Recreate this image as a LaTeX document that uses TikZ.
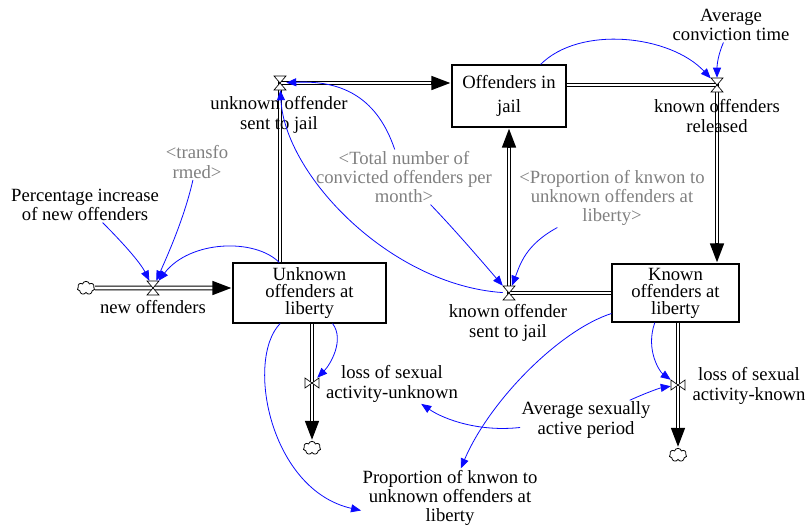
\documentclass[tikz,border=0pt]{standalone}
\usepackage{fontspec}
\setmainfont{Liberation Serif}
\usetikzlibrary{arrows.meta,shapes.symbols}

\definecolor{linkblue}{RGB}{10,10,255}
\definecolor{shadowgray}{RGB}{128,128,128}

\tikzset{
  stock/.style={draw, line width=0.8pt, align=center, inner sep=2pt, font=\fontsize{14}{12.75}\selectfont},
  lbl/.style={align=center, inner sep=1pt, font=\fontsize{14}{14.5}\selectfont},
  shadow/.style={lbl, text=shadowgray},
  valve/.style={inner sep=0pt, minimum width=9pt, minimum height=10.5pt},
  valvev/.style={inner sep=0pt, minimum width=10.5pt, minimum height=7.5pt},
  sink/.style={cloud, cloud puffs=7, draw, fill=white, line width=0.6pt, inner sep=0pt, minimum width=13pt, minimum height=10pt},
  flowpipe/.style={line width=3.6pt, -{Triangle[length=15pt,width=9.5pt]},
    postaction={draw=white, line width=2pt, -, shorten >=15pt}},
  link/.style={draw=linkblue, line width=0.6pt, -{Triangle[length=7.5pt,width=6pt]}},
  valveh/.pic={\draw[fill=white, line width=0.5pt] (-6,-7) -- (6,-7) -- (-6,7) -- (6,7) -- cycle;},
  valvevp/.pic={\draw[fill=white, line width=0.5pt] (-7,-5) -- (-7,5) -- (7,-5) -- (7,5) -- cycle;}
}

\begin{document}
\begin{tikzpicture}[x=0.75pt, y=-0.75pt]
  \useasboundingbox (0,0) rectangle (809,529);

  % stocks
  \node[stock, minimum width=85.5pt, minimum height=46.5pt, font=\fontsize{14}{18}\selectfont] (jail) at (509,96) {Offenders in\\jail};
  \node[stock, minimum width=114.75pt, minimum height=45pt] (unk) at (309.5,293) {Unknown\\offenders at\\liberty};
  \node[stock, minimum width=95.25pt, minimum height=43.5pt] (kno) at (675.5,293) {Known\\offenders at\\liberty};

  % valves and clouds
  \node[valve] (vNew) at (153,288) {};
  \node[valve] (vUJ) at (280,83) {};
  \node[valve] (vRel) at (717,85) {};
  \node[valve] (vKJ) at (509,293) {};
  \node[valvev] (vLU) at (312,383) {};
  \node[valvev] (vLK) at (678,385) {};
  \node[sink] (cNew) at (86,288) {};
  \node[sink] (cU) at (312,448) {};
  \node[sink] (cK) at (678,455) {};

  % flows
  \draw[flowpipe] (cNew) -- (unk.west |- cNew);
  \draw[flowpipe] (vUJ |- unk.north) -- (vUJ.center) -- (jail.west |- vUJ);
  \draw[flowpipe] (jail.east |- vRel) -- (vRel.center) -- (vRel |- kno.north);
  \draw[flowpipe] (kno.west |- vKJ) -- (vKJ.center) -- (vKJ |- jail.south);
  \draw[flowpipe] (vLU |- unk.south) -- (cU);
  \draw[flowpipe] (vLK |- kno.south) -- (cK);
  \pic at (vNew) {valveh};
  \pic at (vUJ) {valveh};
  \pic at (vRel) {valveh};
  \pic at (vKJ) {valveh};
  \pic at (vLU) {valvevp};
  \pic at (vLK) {valvevp};

  % labels
  \node[lbl] (lNew) at (153,307) {new offenders};
  \node[lbl] (lUJ) at (279,115) {unknown offender\\sent to jail};
  \node[lbl] (lRel) at (717,116) {known offenders\\released};
  \node[lbl] (lKJ) at (508,323) {known offender\\sent to jail};
  \node[lbl] (lLU) at (392,384) {loss of sexual\\activity-unknown};
  \node[lbl] (lLK) at (749,386) {loss of sexual\\activity-known};
  \node[lbl] (lConv) at (731,25) {Average\\conviction time};
  \node[lbl] (lPct) at (85,205) {Percentage increase\\of new offenders};
  \node[lbl] (lAvg) at (586,420) {Average sexually\\active period};
  \node[lbl] (lProp) at (450,498) {Proportion of knwon to\\unknown offenders at\\liberty};
  \node[shadow] (lTrans) at (197,162) {<transfo\\rmed>};
  \node[shadow] (lTotal) at (404,177) {<Total number of\\convicted offenders per\\month>};
  \node[shadow] (lPropG) at (612,198) {<Proportion of knwon to\\unknown offenders at\\liberty>};

  % links
  \draw[link] (lPct) .. controls (122,242) and (140,262) .. (vNew);
  \draw[link] (lTrans) .. controls (185,215) and (170,250) .. (vNew);
  \draw[link] (unk) .. controls (255,238) and (190,240) .. (vNew);
  \draw[link] (lTotal) .. controls (378,100) and (345,80) .. (vUJ);
  \draw[link] (vKJ) .. controls (390,285) and (285,175) .. (vUJ);
  \draw[link] (lTotal) .. controls (455,230) and (485,265) .. (vKJ);
  \draw[link] (lPropG) .. controls (525,245) and (520,265) .. (vKJ);
  \draw[link] (jail) .. controls (580,25) and (670,35) .. (vRel);
  \draw[link] (lConv) .. controls (718,55) and (717,65) .. (vRel);
  \draw[link] (kno.235) .. controls (645,350) and (660,372) .. (vLK);
  \draw[link] (lAvg) .. controls (648,392) and (660,388) .. (vLK);
  \draw[link] (lAvg) .. controls (480,432) and (445,420) .. (lLU);
  \draw[link] (unk) .. controls (345,340) and (330,365) .. (vLU);
  \draw[link] (unk) .. controls (245,360) and (270,490) .. (lProp.188);
  \draw[link] (kno) .. controls (560,330) and (490,400) .. (lProp.70);
\end{tikzpicture}
\end{document}
